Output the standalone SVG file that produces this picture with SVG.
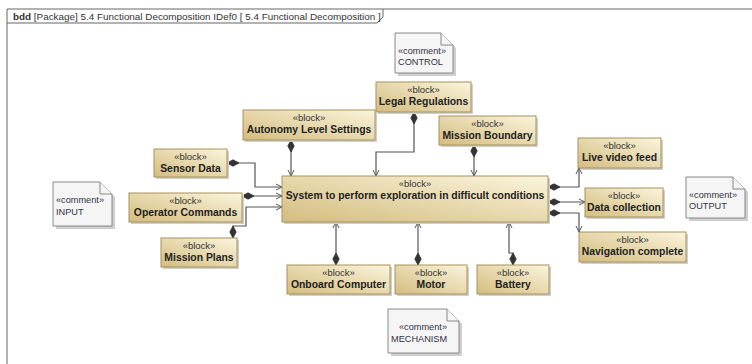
<svg xmlns="http://www.w3.org/2000/svg" width="752" height="364" viewBox="0 0 752 364">
<defs>
<linearGradient id="gb" x1="0" y1="1" x2="1" y2="0">
<stop offset="0" stop-color="#d3bc7f"/>
<stop offset="1" stop-color="#fbf5dc"/>
</linearGradient>
<marker id="dia" markerUnits="userSpaceOnUse" markerWidth="14" markerHeight="8" refX="0" refY="4" orient="auto" viewBox="0 0 14 8">
<path d="M0,4 L6,0.8 L12,4 L6,7.2 Z" fill="#333" stroke="#333" stroke-width="0.8"/>
</marker>
<marker id="arr" markerUnits="userSpaceOnUse" markerWidth="10" markerHeight="10" refX="9" refY="5" orient="auto" viewBox="0 0 10 10">
<path d="M3,2 L9,5 L3,8" fill="none" stroke="#555" stroke-width="1"/>
</marker>
</defs>
<style>
.frame{fill:none;stroke:#666;stroke-width:1}
.blk{fill:url(#gb);stroke:#a8915a;stroke-width:1}
.sh{fill:#cfcfcf}
.cm{fill:#f5f5f5;stroke:#888;stroke-width:1}
.st{font-family:"Liberation Sans",Arial,sans-serif;font-size:9.5px;fill:#333;text-anchor:middle}
.nm{font-family:"Liberation Sans",Arial,sans-serif;font-size:10.4px;font-weight:bold;fill:#222;text-anchor:middle}
.ct{font-family:"Liberation Sans",Arial,sans-serif;font-size:9.2px;fill:#334}
.hd{font-family:"Liberation Sans",Arial,sans-serif;font-size:9.9px;fill:#333}
.cn{fill:none;stroke:#555;stroke-width:1.2;marker-start:url(#dia);marker-end:url(#arr)}
</style>
<rect width="752" height="364" fill="#ffffff"/>
<g id="frame">
<path class="frame" d="M7,366 V9 H760"/>
<path class="frame" d="M7,23 H377 L383,17 V9"/>
<text class="hd" x="13" y="19.5"><tspan font-weight="bold">bdd</tspan> [Package] 5.4 Functional Decomposition IDef0 [ 5.4 Functional Decomposition ]</text>
</g>
<g id="connectors">
<path class="cn" d="M291,140 V176"/>
<path class="cn" d="M414,112 V152 H376 V176"/>
<path class="cn" d="M474,145 V176"/>
<path class="cn" d="M227,163 H255 V187 H282"/>
<path class="cn" d="M242,196 H282"/>
<path class="cn" d="M233,238 V226 H246 V207 H282"/>
<path class="cn" d="M548,187 H579 V168"/>
<path class="cn" d="M548,202 H585"/>
<path class="cn" d="M548,213 H579 V232"/>
<path class="cn" d="M336,265 V222"/>
<path class="cn" d="M418,265 V222"/>
<path class="cn" d="M513,265 V253 H509 V222"/>
</g>
<g id="control">
<path class="sh" d="M398,36 H444 L456,48 V76 H398 Z"/>
<path class="cm" d="M395,33 H441 L453,45 V73 H395 Z"/>
<path class="cm" d="M441,33 V45 H453"/>
<text class="ct" x="398" y="54">«comment»</text>
<text class="ct" x="398" y="65">CONTROL</text>
</g>
<g id="input">
<path class="sh" d="M56,185 H103 L115,197 V229 H56 Z"/>
<path class="cm" d="M53,182 H100 L112,194 V226 H53 Z"/>
<path class="cm" d="M100,182 V194 H112"/>
<text class="ct" x="56" y="203">«comment»</text>
<text class="ct" x="56" y="215">INPUT</text>
</g>
<g id="output">
<path class="sh" d="M689,180 H736 L748,192 V221 H689 Z"/>
<path class="cm" d="M686,177 H733 L745,189 V218 H686 Z"/>
<path class="cm" d="M733,177 V189 H745"/>
<text class="ct" x="689" y="198">«comment»</text>
<text class="ct" x="689" y="209">OUTPUT</text>
</g>
<g id="mechanism">
<path class="sh" d="M391,312 H450 L462,324 V356 H391 Z"/>
<path class="cm" d="M388,309 H447 L459,321 V353 H388 Z"/>
<path class="cm" d="M447,309 V321 H459"/>
<text class="ct" x="399" y="330">«comment»</text>
<text class="ct" x="391" y="342">MECHANISM</text>
</g>
<g id="legal">
<rect class="sh" x="378" y="84" width="95" height="30"/>
<rect class="blk" x="376" y="82" width="95" height="30"/>
<text class="st" x="423.5" y="93">«block»</text>
<text class="nm" x="423.5" y="105">Legal Regulations</text>
</g>
<g id="missionboundary">
<rect class="sh" x="441" y="118" width="97" height="29"/>
<rect class="blk" x="439" y="116" width="97" height="29"/>
<text class="st" x="487.5" y="127">«block»</text>
<text class="nm" x="487.5" y="139">Mission Boundary</text>
</g>
<g id="autonomy">
<rect class="sh" x="245" y="112" width="132" height="30"/>
<rect class="blk" x="243" y="110" width="132" height="30"/>
<text class="st" x="309" y="121">«block»</text>
<text class="nm" x="309" y="133">Autonomy Level Settings</text>
</g>
<g id="sensor">
<rect class="sh" x="156" y="151" width="73" height="28"/>
<rect class="blk" x="154" y="149" width="73" height="28"/>
<text class="st" x="190.5" y="159.5">«block»</text>
<text class="nm" x="190.5" y="171.5">Sensor Data</text>
</g>
<g id="operator">
<rect class="sh" x="131" y="195" width="113" height="29"/>
<rect class="blk" x="129" y="193" width="113" height="29"/>
<text class="st" x="185.5" y="204">«block»</text>
<text class="nm" x="185.5" y="216">Operator Commands</text>
</g>
<g id="missionplans">
<rect class="sh" x="163" y="240" width="76" height="29"/>
<rect class="blk" x="161" y="238" width="76" height="29"/>
<text class="st" x="199" y="249">«block»</text>
<text class="nm" x="199" y="261">Mission Plans</text>
</g>
<g id="system">
<rect class="sh" x="284" y="178" width="266" height="46"/>
<rect class="blk" x="282" y="176" width="266" height="46"/>
<text class="st" x="415" y="187">«block»</text>
<text class="nm" x="415" y="199">System to perform exploration in difficult conditions</text>
</g>
<g id="livevideo">
<rect class="sh" x="580" y="140" width="83" height="30"/>
<rect class="blk" x="578" y="138" width="83" height="30"/>
<text class="st" x="619.5" y="149">«block»</text>
<text class="nm" x="619.5" y="161">Live video feed</text>
</g>
<g id="datacollection">
<rect class="sh" x="587" y="190" width="78" height="29"/>
<rect class="blk" x="585" y="188" width="78" height="29"/>
<text class="st" x="624" y="199">«block»</text>
<text class="nm" x="624" y="211">Data collection</text>
</g>
<g id="navigation">
<rect class="sh" x="581" y="234" width="107" height="30"/>
<rect class="blk" x="579" y="232" width="107" height="30"/>
<text class="st" x="632.5" y="243">«block»</text>
<text class="nm" x="632.5" y="255">Navigation complete</text>
</g>
<g id="onboard">
<rect class="sh" x="289" y="267" width="103" height="29"/>
<rect class="blk" x="287" y="265" width="103" height="29"/>
<text class="st" x="338.5" y="276">«block»</text>
<text class="nm" x="338.5" y="288">Onboard Computer</text>
</g>
<g id="motor">
<rect class="sh" x="397" y="267" width="72" height="29"/>
<rect class="blk" x="395" y="265" width="72" height="29"/>
<text class="st" x="431" y="276">«block»</text>
<text class="nm" x="431" y="288">Motor</text>
</g>
<g id="battery">
<rect class="sh" x="479" y="267" width="72" height="29"/>
<rect class="blk" x="477" y="265" width="72" height="29"/>
<text class="st" x="513" y="276">«block»</text>
<text class="nm" x="513" y="288">Battery</text>
</g>
</svg>
